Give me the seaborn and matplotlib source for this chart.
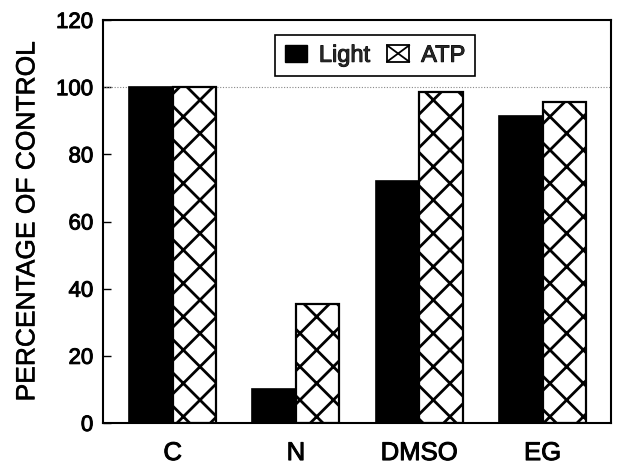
import matplotlib
matplotlib.use("Agg")
import matplotlib.pyplot as plt
from matplotlib.patches import Patch, Rectangle
from matplotlib.lines import Line2D
from matplotlib.legend_handler import HandlerPatch
import matplotlib.patheffects as pe
import seaborn as sns
import pandas as pd

categories = ["C", "N", "DMSO", "EG"]
light = [100, 10, 72, 91.5]
atp = [100, 35.5, 98.5, 95.6]
series_names = ["Light", "ATP"]
y_ticks = [0, 20, 40, 60, 80, 100, 120]

sns.set_theme(style="white")
plt.rcParams['font.family'] = ['Liberation Sans', 'DejaVu Sans']
plt.rcParams['hatch.linewidth'] = 2.0
plt.rcParams['hatch.color'] = 'black'

df = pd.DataFrame({
    "cat": categories * 2,
    "val": light + atp,
    "series": [series_names[0]] * len(categories) + [series_names[1]] * len(categories),
})

fig = plt.figure(figsize=(6.26, 4.66), dpi=100)
ax = fig.add_axes([103 / 626, 43 / 466, 508 / 626, 403 / 466])

sns.barplot(data=df, x="cat", y="val", hue="series", order=categories,
            hue_order=series_names, palette=["black", "white"], width=0.706,
            edgecolor="black", linewidth=1.2, legend=False, ax=ax, zorder=2)

for bar in ax.containers[1]:
    bar.set_hatch("x")
    bar.set_edgecolor("black")
    bar.set_linewidth(1.6)

ax.axhline(100, ls=(0, (1, 1.5)), color="#888888", lw=0.8, zorder=1)

thick = [pe.withStroke(linewidth=0.7, foreground="black")]

ax.set_xlim(-0.565, 3.555)
ax.set_ylim(0, 120)
ax.set_yticks(y_ticks)
ax.set_xlabel("")
ax.set_ylabel("PERCENTAGE OF CONTROL", fontsize=19, labelpad=12, color="black",
              path_effects=[pe.withStroke(linewidth=0.4, foreground="black")])
ax.tick_params(axis="y", direction="in", length=6, width=1, labelsize=16, pad=7,
               left=True, color="black", labelcolor="black")
ax.tick_params(axis="x", length=0, labelsize=18.5, pad=13, labelcolor="black")
for t in ax.get_xticklabels() + ax.get_yticklabels():
    t.set_path_effects(thick)

for s in ax.spines.values():
    s.set_visible(True)
    s.set_color("black")
    s.set_linewidth(1.5)


class HandlerXBox(HandlerPatch):
    def create_artists(self, legend, orig_handle, xdescent, ydescent, width,
                       height, fontsize, trans):
        r = Rectangle((-xdescent, -ydescent), width, height, facecolor="white",
                      edgecolor="black", linewidth=1.3, transform=trans)
        l1 = Line2D([-xdescent, -xdescent + width], [-ydescent, -ydescent + height],
                    color="black", linewidth=1.3, transform=trans)
        l2 = Line2D([-xdescent, -xdescent + width], [-ydescent + height, -ydescent],
                    color="black", linewidth=1.3, transform=trans)
        return [r, l1, l2]


h_light = Patch(facecolor="black", edgecolor="black", label=series_names[0])
h_atp = Patch(facecolor="white", edgecolor="black", label=series_names[1])
leg = ax.legend(handles=[h_light, h_atp], ncol=2, loc="upper left",
                bbox_to_anchor=(0.339, 0.962), fontsize=17, frameon=True,
                fancybox=False, edgecolor="black", handlelength=0.95,
                handleheight=0.7, handletextpad=0.5, columnspacing=0.7,
                borderpad=0.4, borderaxespad=0,
                handler_map={h_atp: HandlerXBox()})
leg.get_frame().set_linewidth(1.2)
leg.get_frame().set_alpha(1)
for t in leg.get_texts():
    t.set_path_effects(thick)

fig.savefig("out.png", dpi=100)
